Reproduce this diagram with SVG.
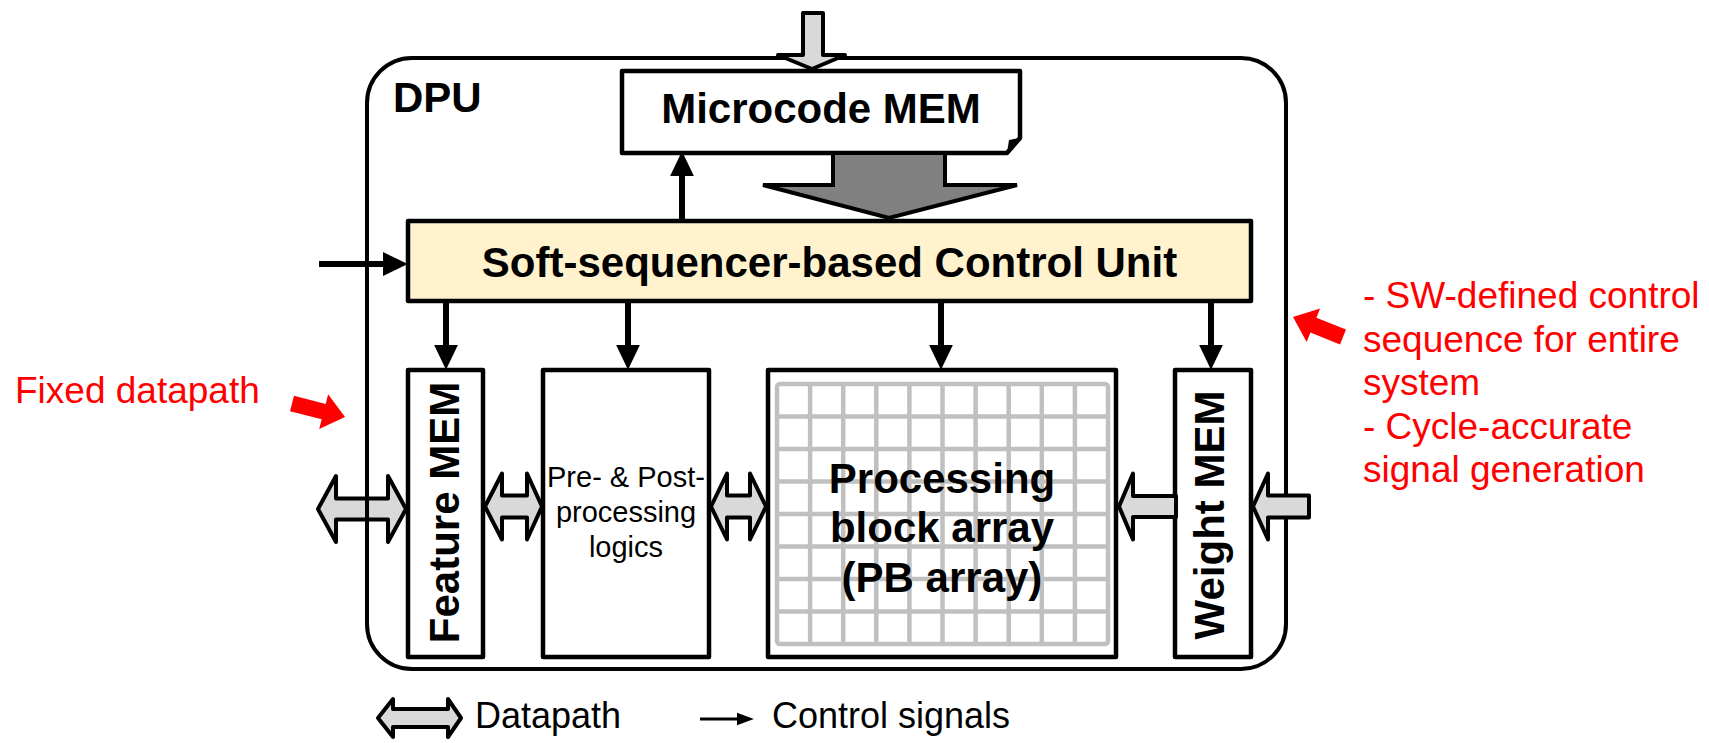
<svg xmlns="http://www.w3.org/2000/svg" width="1709" height="743" viewBox="0 0 1709 743">
<style>
.box{fill:#FFFFFF;stroke:#000;stroke-width:4.5;stroke-linejoin:round}
.ctrl{fill:#FFF2CC;stroke:#000;stroke-width:4.5;stroke-linejoin:round}
.dp{fill:#D9D9D9;stroke:#000;stroke-width:4;stroke-linejoin:round}
.big{fill:#808080;stroke:#000;stroke-width:4;stroke-linejoin:miter}
.sig{stroke:#000;stroke-width:6;fill:none}
.grid{stroke:#C0C0C0;stroke-width:4.5;fill:none}
.bt{font-family:"Liberation Sans",Arial,sans-serif;font-weight:bold;font-size:42px;fill:#000}
.nt{font-family:"Liberation Sans",Arial,sans-serif;font-size:29px;fill:#000}
.lg{font-family:"Liberation Sans",Arial,sans-serif;font-size:36px;fill:#000}
.red{font-family:"Liberation Sans",Arial,sans-serif;font-size:37px;fill:#FF0000}
</style>
<defs>
<marker id="ah" markerUnits="userSpaceOnUse" markerWidth="26" markerHeight="26" viewBox="0 -12 24 24" refX="1" refY="0" orient="auto">
<path d="M0,-11 L23,0 L0,11 Z" fill="#000"/>
</marker>
<marker id="ahs" markerUnits="userSpaceOnUse" markerWidth="18" markerHeight="16" viewBox="0 -7 17 14" refX="1" refY="0" orient="auto">
<path d="M0,-6 L16,0 L0,6 Z" fill="#000"/>
</marker>
</defs>
<rect width="1709" height="743" fill="#FFFFFF"/>

<g id="connectors-external">
<path class="dp" d="M318,509 L336,476 L336,498.5 L388,498.5 L388,476 L406,509 L388,542 L388,519.5 L336,519.5 L336,542 Z"/>
</g>

<g id="dpu">
<rect x="367" y="58" width="919" height="611" rx="45" ry="45" fill="none" stroke="#000" stroke-width="4"/>
<text class="bt" x="393" y="112" font-size="40">DPU</text>
</g>

<g id="microcode-mem">
<path class="box" d="M622,71 H1020 V138 L1007,153 H622 Z"/>
<path d="M1020,138 L1009,140 L1007,153 Z" fill="#000"/>
<text class="bt" x="821" y="123" text-anchor="middle">Microcode MEM</text>
</g>

<g id="control-unit">
<rect class="ctrl" x="408" y="221" width="843" height="80"/>
<text class="bt" x="829.5" y="277" text-anchor="middle">Soft-sequencer-based Control Unit</text>
</g>

<g id="feature-mem">
<rect class="box" x="408" y="370" width="75" height="287"/>
<text class="bt" transform="translate(459,512.5) rotate(-90)" text-anchor="middle">Feature MEM</text>
</g>

<g id="pre-post">
<rect class="box" x="543" y="370" width="166" height="287"/>
<text class="nt" text-anchor="middle"><tspan x="626" y="487">Pre- &amp; Post-</tspan><tspan x="626" y="522">processing</tspan><tspan x="626" y="557">logics</tspan></text>
</g>

<g id="pb-array">
<rect class="box" x="768" y="370" width="348" height="287"/>
<rect class="grid" x="777" y="384" width="331" height="260" rx="3"/>
<path class="grid" d="M810.1,384V644M843.2,384V644M876.3,384V644M909.4,384V644M942.5,384V644M975.6,384V644M1008.7,384V644M1041.8,384V644M1074.9,384V644M777,416.5H1108M777,449H1108M777,481.5H1108M777,514H1108M777,546.5H1108M777,579H1108M777,611.5H1108"/>
<text class="bt" text-anchor="middle"><tspan x="942" y="493">Processing</tspan><tspan x="942" y="542">block array</tspan><tspan x="942" y="592">(PB array)</tspan></text>
</g>

<g id="weight-mem">
<rect class="box" x="1175" y="370" width="76" height="287"/>
<text class="bt" transform="translate(1224,515) rotate(-90)" text-anchor="middle">Weight MEM</text>
</g>

<g id="connectors">
<!-- external microcode load -->
<path class="dp" d="M803,13 H823 V55 H845 L812,69 L778,55 H803 Z"/>
<!-- microcode to control unit -->
<path class="big" d="M833,153 H945 V185 H1017 L889,218 L763,185 H833 Z"/>
<!-- control signals -->
<line class="sig" x1="682" y1="221" x2="682" y2="175" marker-end="url(#ah)"/>
<line class="sig" x1="319" y1="264" x2="384" y2="264" marker-end="url(#ah)"/>
<line class="sig" x1="446" y1="301" x2="446" y2="346" marker-end="url(#ah)"/>
<line class="sig" x1="628" y1="301" x2="628" y2="346" marker-end="url(#ah)"/>
<line class="sig" x1="941" y1="301" x2="941" y2="346" marker-end="url(#ah)"/>
<line class="sig" x1="1211" y1="301" x2="1211" y2="346" marker-end="url(#ah)"/>
<!-- datapaths -->
<path class="dp" d="M485,506.5 L502,473.5 L502,495.5 L527,495.5 L527,473.5 L542,506.5 L527,539.5 L527,517.5 L502,517.5 L502,539.5 Z"/>
<path class="dp" d="M711,506.5 L727,473.5 L727,495.5 L750,495.5 L750,473.5 L766,506.5 L750,539.5 L750,517.5 L727,517.5 L727,539.5 Z"/>
<path class="dp" d="M1119,506.5 L1133,473.5 L1133,496 L1176,496 L1176,517 L1133,517 L1133,539.5 Z"/>
<path class="dp" d="M1253,506.5 L1268,473.5 L1268,495.5 L1309,495.5 L1309,517.5 L1268,517.5 L1268,539.5 Z"/>
</g>

<g id="annotation-left">
<text class="red" x="15" y="403">Fixed datapath</text>
<path d="M294,395.7 L325.7,403.9 L328.1,394.2 L345,417 L319.2,429 L321.7,419.3 L290,411.3 Z" fill="#FF0000"/>
</g>

<g id="annotation-right">
<path d="M1293,317 L1320.1,308.5 L1316.4,317.8 L1346,329.6 L1340,344.4 L1310.4,332.6 L1306.7,341.9 Z" fill="#FF0000"/>
<text class="red"><tspan x="1363" y="308">- SW-defined control</tspan><tspan x="1363" y="351.5">sequence for entire</tspan><tspan x="1363" y="395">system</tspan><tspan x="1363" y="438.5">- Cycle-accurate</tspan><tspan x="1363" y="482">signal generation</tspan></text>
</g>

<g id="legend">
<path class="dp" d="M378,718 L393,699 L393,709 L448,709 L448,699 L461,718 L448,737 L448,727 L393,727 L393,737 Z"/>
<text class="lg" x="475" y="728">Datapath</text>
<line x1="700" y1="719" x2="738" y2="719" stroke="#000" stroke-width="3" marker-end="url(#ahs)"/>
<text class="lg" x="772" y="728">Control signals</text>
</g>
</svg>
